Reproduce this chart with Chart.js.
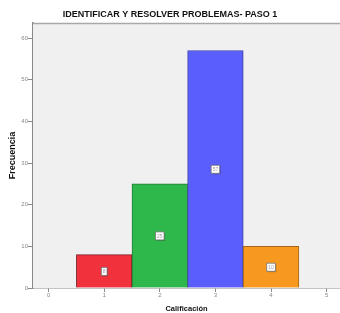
<!DOCTYPE html>
<html>
<head>
<meta charset="utf-8">
<script src="https://cdn.jsdelivr.net/npm/chart.js@4/dist/chart.umd.min.js"></script>
<style>
html,body{margin:0;padding:0;background:#fff;}
#wrap{width:340px;height:313px;position:relative;}
</style>
</head>
<body>
<div id="wrap"><canvas id="c" width="340" height="313"></canvas></div>
<script>
const chartTitle = "IDENTIFICAR Y RESOLVER PROBLEMAS- PASO 1";
const xTitle = "Calificación";
const yTitle = "Frecuencia";
const categories = [1, 2, 3, 4];
const frequencies = [8, 25, 57, 10];
const barColors = ["#f1323d", "#2eb84b", "#5a5efc", "#f7991f"];
const barBorders = ["#7a2026", "#237a36", "#3d40a8", "#a8681a"];
const xTicks = [0, 1, 2, 3, 4, 5];
const yTicks = [0, 10, 20, 30, 40, 50, 60];

const plotBg = {
  id: 'plotBg',
  beforeDatasetsDraw(chart) {
    const {ctx, chartArea: a} = chart;
    ctx.save();
    ctx.fillStyle = '#f0f0f0';
    ctx.fillRect(a.left, a.top, a.right - a.left, a.bottom - a.top);
    ctx.strokeStyle = '#a8a8a8';
    ctx.lineWidth = 1.5;
    ctx.beginPath();
    ctx.moveTo(a.left, a.top + 0.5);
    ctx.lineTo(a.right, a.top + 0.5);
    ctx.stroke();
    ctx.restore();
  }
};

const valueBoxes = {
  id: 'valueBoxes',
  afterDatasetsDraw(chart) {
    const {ctx} = chart;
    const meta = chart.getDatasetMeta(0);
    const ys = chart.scales.y;
    ctx.save();
    ctx.font = '5px "Liberation Sans", Arial, sans-serif';
    ctx.textAlign = 'center';
    ctx.textBaseline = 'middle';
    meta.data.forEach((bar, i) => {
      const v = frequencies[i];
      const cx = bar.x;
      const cy = ys.getPixelForValue(v / 2);
      const tw = ctx.measureText(String(v)).width;
      const w = Math.max(5, tw + 3), h = 8;
      ctx.fillStyle = 'rgba(0,0,0,0.25)';
      ctx.fillRect(cx - w / 2 + 1, cy - h / 2 + 1, w, h);
      ctx.fillStyle = '#ffffff';
      ctx.fillRect(cx - w / 2, cy - h / 2, w, h);
      ctx.strokeStyle = '#777';
      ctx.lineWidth = 0.8;
      ctx.strokeRect(cx - w / 2, cy - h / 2, w, h);
      ctx.fillStyle = '#999';
      ctx.fillText(String(v), cx, cy + 0.5);
    });
    ctx.restore();
  }
};

new Chart(document.getElementById('c'), {
  type: 'bar',
  data: {
    datasets: [{
      data: categories.map((c, i) => ({x: c, y: frequencies[i]})),
      backgroundColor: barColors,
      borderColor: barBorders,
      borderWidth: 1,
      barPercentage: 1,
      categoryPercentage: 1
    }]
  },
  plugins: [plotBg, valueBoxes],
  options: {
    responsive: false,
    animation: false,
    devicePixelRatio: 1,
    layout: {padding: 0},
    plugins: {
      legend: {display: false},
      tooltip: {enabled: false},
      title: {
        display: true,
        text: chartTitle,
        color: '#111',
        font: {family: '"Liberation Sans", Arial, sans-serif', size: 9, weight: 'bold', lineHeight: 1.2},
        padding: {top: 9.5, bottom: 2.7}
      }
    },
    scales: {
      x: {
        type: 'linear',
        offset: false,
        min: -0.28,
        max: 5.24,
        afterFit(s) { s.height = 25; },
        afterBuildTicks(s) { s.ticks = xTicks.map(v => ({value: v})); },
        ticks: {
          includeBounds: false,
          stepSize: 1,
          color: '#888',
          padding: 0,
          maxRotation: 0,
          font: {family: '"Liberation Sans", Arial, sans-serif', size: 6}
        },
        grid: {display: true, offset: false, drawOnChartArea: false, drawTicks: true, tickLength: 4, color: '#8a8a8a', lineWidth: 1},
        border: {display: true, color: '#8a8a8a', width: 1.5},
        title: {
          display: true,
          text: xTitle,
          color: '#111',
          font: {family: '"Liberation Sans", Arial, sans-serif', size: 7.5, weight: 'bold', lineHeight: 1},
          padding: {top: 0, bottom: 0.5}
        }
      },
      y: {
        min: 0,
        max: 63.6,
        afterFit(s) { s.width = 33; },
        afterBuildTicks(s) { s.ticks = yTicks.map(v => ({value: v})); },
        ticks: {
          includeBounds: false,
          stepSize: 10,
          color: '#888',
          padding: 0,
          font: {family: '"Liberation Sans", Arial, sans-serif', size: 6}
        },
        grid: {display: true, drawOnChartArea: false, drawTicks: true, tickLength: 5, color: '#8a8a8a', lineWidth: 1},
        border: {display: true, color: '#8a8a8a', width: 1.5},
        title: {
          display: true,
          text: yTitle,
          color: '#111',
          font: {family: '"Liberation Sans", Arial, sans-serif', size: 9, weight: 'bold', lineHeight: 1},
          padding: {top: 8.5, bottom: 0}
        }
      }
    }
  }
});
</script>
</body>
</html>
